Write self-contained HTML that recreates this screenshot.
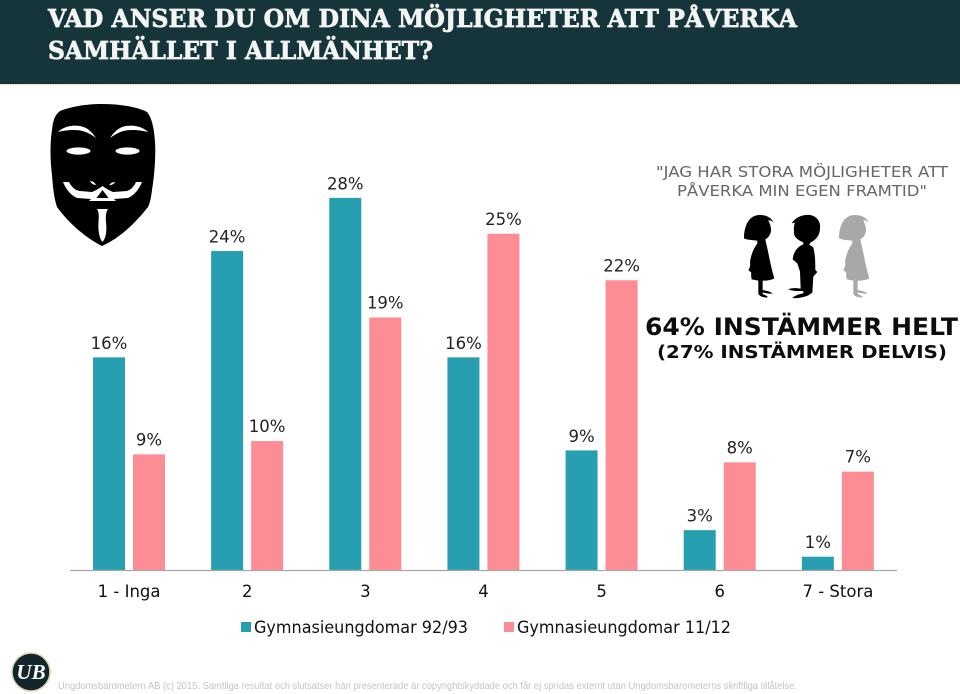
<!DOCTYPE html>
<html lang="sv">
<head>
<meta charset="utf-8">
<title>Vad anser du om dina möjligheter att påverka samhället i allmänhet?</title>
<style>
html,body{margin:0;padding:0;background:#fff;width:960px;height:694px;overflow:hidden}
svg{display:block}
text{font-family:"DejaVu Sans","Liberation Sans",sans-serif}
</style>
</head>
<body>
<svg id="chart" xmlns="http://www.w3.org/2000/svg" width="960" height="694" viewBox="0 0 960 694">
  <defs>
    <path id="girl-shape" d="M12,85 C12,50 25,15 60,15 C80,15 95,22 103,42 C97,32 90,30 85,32 C92,45 95,58 92,68 C88,80 82,85 76,88 L78,98 C85,125 92,170 103,205 C90,212 75,212 68,212 L68,240 C78,242 92,245 98,250 C88,252 78,250 68,247 L68,252 C75,256 85,258 82,262 C70,264 58,258 55,252 L55,212 L35,208 C33,195 33,190 34,188 L25,180 C30,172 32,165 30,155 C35,125 45,110 52,100 L52,92 C38,90 22,90 12,85Z"/>
  </defs>
  <rect width="960" height="694" fill="#ffffff"/>
  <rect width="960" height="84" fill="#16353b"/>
  <line x1="0" y1="84.5" x2="960" y2="84.5" stroke="#d8d49a" stroke-width="1" stroke-dasharray="1.5 1"/>
  <text x="48" y="27" textLength="749" lengthAdjust="spacingAndGlyphs" font-size="24" font-weight="700" fill="#f2f5f4" stroke="#f2f5f4" stroke-width="0.7" style="font-family:'DejaVu Serif','Liberation Serif',serif">VAD ANSER DU OM DINA MÖJLIGHETER ATT PÅVERKA</text>
  <text x="48" y="59" textLength="385" lengthAdjust="spacingAndGlyphs" font-size="24" font-weight="700" fill="#f2f5f4" stroke="#f2f5f4" stroke-width="0.7" style="font-family:'DejaVu Serif','Liberation Serif',serif">SAMHÄLLET I ALLMÄNHET?</text>

  <g>
    <path fill="#000" d="M102 104C120 104 138 107 147 112C152 118 154 128 155 142C156 158 154 178 152 190C151 198 150 203 148 207C134 225 118 239 102 246C88 239 70 225 57 207C54 198 53 188 52 175C50 160 50 142 52 130C53 120 55 115 60 111C70 107 85 104 102 104Z"/>
    <path fill="#fff" d="M58 132C65 125 78 124 86 128C91 131 94 135 96 138C88 132 82 130 74 130C68 130 62 131 58 132Z"/>
    <path fill="#fff" d="M148 132C141 125 128 124 120 128C115 131 112 135 110 138C118 132 124 130 132 130C138 130 144 131 148 132Z"/>
    <ellipse fill="#fff" cx="78.5" cy="151" rx="12" ry="3.6"/>
    <ellipse fill="#fff" cx="127.5" cy="151" rx="12" ry="3.6"/>
    <path fill="#fff" d="M63 182L69 182Q73 190 80 191L92 192Q97 190 102.5 186Q108 190 113 192L127 191Q133 189 136 182L142 182Q137 194 128 198L114 199L116 201L89 201L91 199L77 198Q68 194 63 182Z"/>
    <path fill="#000" d="M102.5 190L96.5 198L108.5 198Z"/>
    <path fill="#fff" d="M90 181C93 181 95 183 96 185C93 185 91 183 90 181Z"/>
    <path fill="#fff" d="M115 182C112 182 110 184 109 185C112 185 114 184 115 182Z"/>
    <path fill="#fff" d="M97 209L108 209C106 212 105.5 216 106 222C107 231 106 238 102.5 242C99 238 98 230 98.5 222C99 216 99 212 97 209Z"/>
  </g>

  <text x="656" y="177" textLength="292" lengthAdjust="spacingAndGlyphs" font-size="15.5" fill="#666666">"JAG HAR STORA MÖJLIGHETER ATT</text>
  <text x="677" y="196" textLength="250" lengthAdjust="spacingAndGlyphs" font-size="15.5" fill="#666666">PÅVERKA MIN EGEN FRAMTID"</text>

  <g transform="translate(740 210) scale(.3333)">
    <use href="#girl-shape" fill="#000"/>
    <path fill="#000" d="M155,40 C165,22 190,12 210,15 C230,18 243,35 240,55 C240,75 228,90 212,97 L208,104 L220,112 C226,135 226,160 226,180 L232,186 L220,200 L217,248 L205,256 C190,262 170,266 157,264 C165,256 178,252 190,250 L190,243 C175,243 155,243 145,238 C155,233 170,234 182,236 L180,185 L172,160 L158,148 C160,130 168,112 190,103 L190,97 C178,92 165,85 162,72 C162,60 160,50 165,38 Z"/>
    <use href="#girl-shape" x="285" fill="#a8a8a8"/>
  </g>

  <text x="645" y="335" textLength="313" lengthAdjust="spacingAndGlyphs" font-size="24" font-weight="700" fill="#0d0d0d">64% INSTÄMMER HELT</text>
  <text x="657" y="358" textLength="290" lengthAdjust="spacingAndGlyphs" font-size="18" font-weight="700" fill="#0d0d0d">(27% INSTÄMMER DELVIS)</text>

  <g id="plot"></g>

  <rect x="241" y="622" width="10" height="10" fill="#279fb0"/>
  <text x="254" y="633" textLength="214" lengthAdjust="spacingAndGlyphs" font-size="17" fill="#111">Gymnasieungdomar 92/93</text>
  <rect x="504" y="622" width="10" height="10" fill="#fd8d95"/>
  <text x="517" y="633" textLength="214" lengthAdjust="spacingAndGlyphs" font-size="17" fill="#111">Gymnasieungdomar 11/12</text>

  <g>
    <circle cx="31" cy="672" r="19" fill="#12262c" stroke="#d9d6b4" stroke-width="1.5"/>
    <text x="31" y="679" text-anchor="middle" font-size="21" font-weight="700" font-style="italic" fill="#fff" style="font-family:'Liberation Serif',serif">UB</text>
  </g>
  <text x="58" y="689" textLength="739" lengthAdjust="spacingAndGlyphs" font-size="10.5" fill="#c4c4c4" style="font-family:'Liberation Sans',sans-serif">Ungdomsbarometern AB (c) 2015. Samtliga resultat och slutsatser häri presenterade är copyrightskyddade och får ej spridas externt utan Ungdomsbarometerns skriftliga tillåtelse.</text>
</svg>
<script>
var categories = ["1 - Inga", "2", "3", "4", "5", "6", "7 - Stora"];
var series9293 = [16, 24, 28, 16, 9, 3, 1];
var series1112 = [8.7, 9.7, 19, 25.3, 21.8, 8.1, 7.4];
var labels9293 = ["16%", "24%", "28%", "16%", "9%", "3%", "1%"];
var labels1112 = ["9%", "10%", "19%", "25%", "22%", "8%", "7%"];

var NS = "http://www.w3.org/2000/svg";
var plot = document.getElementById("plot");
var axisLeft = 70, axisRight = 897, baseY = 570, pxPerPercent = 13.29;
var barW = 32;
var step = (axisRight - axisLeft) / categories.length;
function xBand(i) { return axisLeft + step * i; }
function yScale(v) { return baseY - v * pxPerPercent; }
function make(tag, attrs, parent) {
  var el = document.createElementNS(NS, tag);
  for (var k in attrs) { el.setAttribute(k, attrs[k]); }
  parent.appendChild(el);
  return el;
}
function drawSeries(values, labels, offset, color, key, gap) {
  values.forEach(function (v, i) {
    var x = xBand(i) + offset;
    var y = yScale(v);
    var bar = make("rect", { x: x, y: y, width: barW, height: baseY - y, fill: color }, plot);
    
    
    var label = make("text", { x: x + barW / 2, y: y - gap, "text-anchor": "middle", "font-size": 16.5, fill: "#222" }, plot);
    
    
    label.textContent = labels[i];
  });
}
drawSeries(series9293, labels9293, 23, "#279fb0", "92-93", 8.5);
drawSeries(series1112, labels1112, 63, "#fd8d95", "11-12", 9);
var axis = make("line", { x1: axisLeft, x2: axisRight, y1: baseY + 0.5, y2: baseY + 0.5, stroke: "#a8a8a8", "stroke-width": 1.2 }, plot);


categories.forEach(function (c, i) {
  var t = make("text", { x: xBand(i) + step / 2, y: 597, "text-anchor": "middle", "font-size": 16.5, fill: "#111" }, plot);
  
  
  t.textContent = c;
});
</script>
</body>
</html>
